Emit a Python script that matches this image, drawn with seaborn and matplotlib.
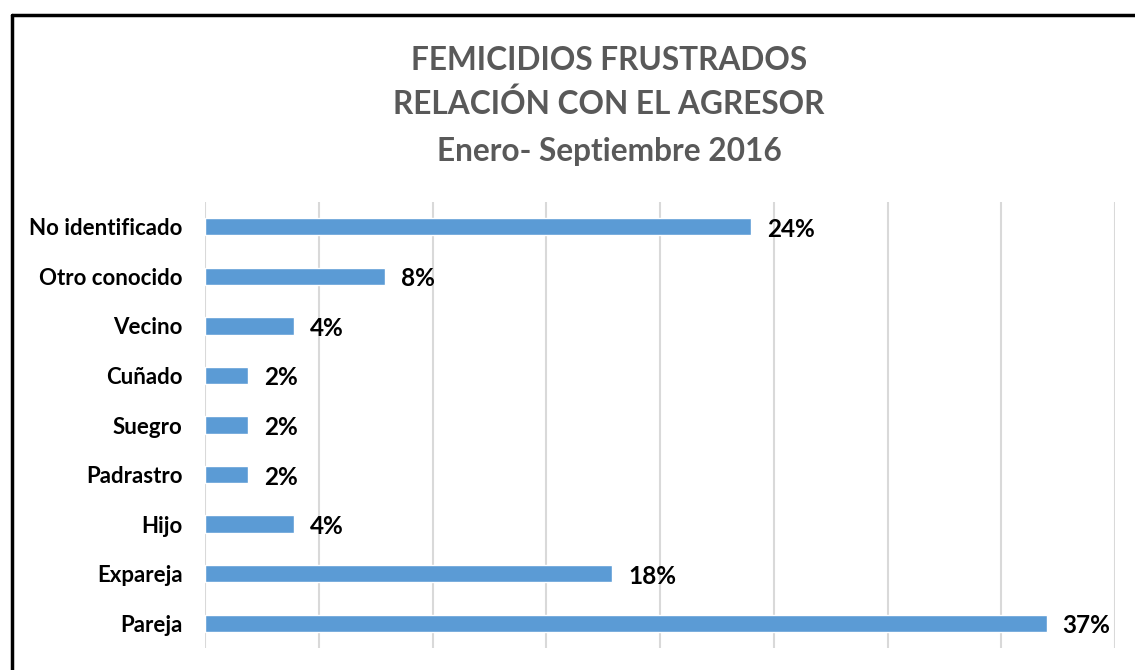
import matplotlib
matplotlib.use("Agg")
import matplotlib.pyplot as plt
from matplotlib.lines import Line2D
import seaborn as sns
import pandas as pd

categories = ["No identificado", "Otro conocido", "Vecino", "Cuñado", "Suegro",
              "Padrastro", "Hijo", "Expareja", "Pareja"]
values = [24.0, 7.9, 3.9, 1.9, 1.9, 1.9, 3.9, 17.9, 37.0]
title_lines = ["FEMICIDIOS FRUSTRADOS", "RELACIÓN CON EL AGRESOR", "Enero- Septiembre 2016"]

sns.set_style("white")
plt.rcParams['font.family'] = ['Lato', 'DejaVu Sans']

W, H = 1135, 670
fig = plt.figure(figsize=(W / 100, H / 100), dpi=100)
fig.patch.set_facecolor("white")
ax = fig.add_axes([205 / W, 1 - 648 / H, (1115 - 205) / W, (648 - 202) / H])

df = pd.DataFrame({"cat": categories, "val": values})
sns.barplot(data=df, x="val", y="cat", orient="h", color="#5b9bd5",
            saturation=1, width=0.35, ax=ax, zorder=3)

ax.set_xlim(0, 40)
ax.set_ylim(8.5, -0.5)
ax.set_xticks(range(0, 41, 5))
ax.set_xticklabels([])
ax.xaxis.grid(True, color="#d9d9d9", linewidth=1.5)
ax.yaxis.grid(False)
ax.set_axisbelow(True)
for s in ax.spines.values():
    s.set_visible(False)
ax.tick_params(axis="both", length=0)
ax.tick_params(axis="y", pad=16)
ax.set_xlabel("")
ax.set_ylabel("")
for lab in ax.get_yticklabels():
    lab.set_fontsize(16)
    lab.set_fontweight("bold")
    lab.set_color("#000000")

for i, v in enumerate(values):
    ax.text(v + 0.7, i + 0.05, f"{v:.0f}%", va="center", ha="left",
            fontsize=17.5, fontweight="bold", color="#000000")

ys = [61, 104, 151]
for t, y in zip(title_lines, ys):
    fig.text(609 / W, 1 - y / H, t, ha="center", va="center",
             fontsize=22.8, fontweight="bold", color="#595959")

# frame border (top and left, partially cropped)
fig.add_artist(Line2D([11.5 / W, 1.0], [1 - 14.5 / H, 1 - 14.5 / H],
                      transform=fig.transFigure, color="black", linewidth=2.5))
fig.add_artist(Line2D([11.5 / W, 11.5 / W], [0.0, 1 - 14.5 / H],
                      transform=fig.transFigure, color="black", linewidth=2.5))

fig.savefig("out.png", dpi=100, facecolor="white")
